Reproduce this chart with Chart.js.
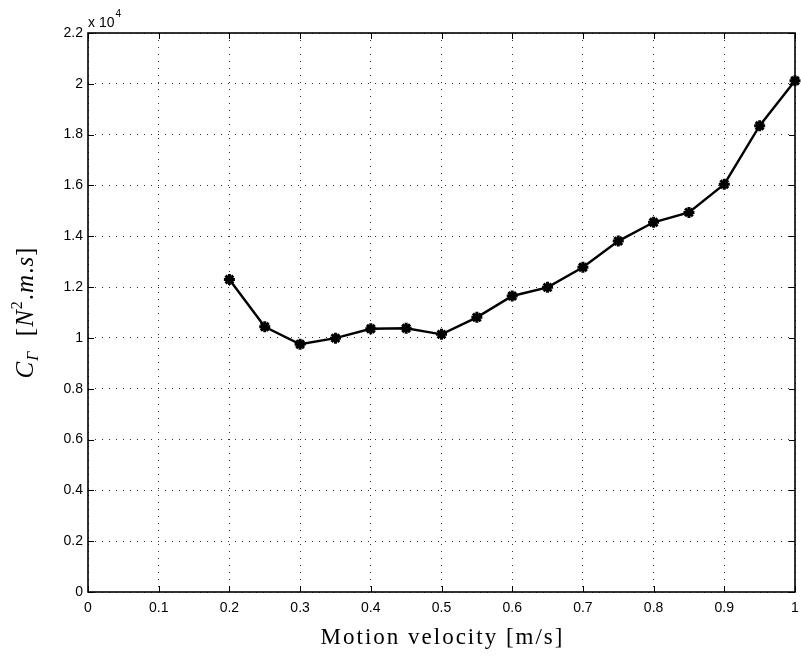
<!DOCTYPE html>
<html>
<head>
<meta charset="utf-8">
<script src="https://cdn.jsdelivr.net/npm/chart.js@4/dist/chart.umd.min.js"></script>
<style>
  html, body { margin: 0; padding: 0; background: #fff; }
  canvas { display: block; }
</style>
</head>
<body>
<canvas id="velChart" width="801" height="656"></canvas>
<script>
// data
const velocities = [0.2, 0.25, 0.3, 0.35, 0.4, 0.45, 0.5, 0.55, 0.6, 0.65, 0.7, 0.75, 0.8, 0.85, 0.9, 0.95, 1.0];
const cGamma = [12300, 10440, 9750, 9990, 10360, 10380, 10140, 10810, 11650, 11990, 12780, 13810, 14550, 14940, 16050, 18350, 20120];

const xTickLabels = ['0', '0.1', '0.2', '0.3', '0.4', '0.5', '0.6', '0.7', '0.8', '0.9', '1'];
const yTickLabels = ['0', '0.2', '0.4', '0.6', '0.8', '1', '1.2', '1.4', '1.6', '1.8', '2', '2.2'];

const tickFont = { family: "'Liberation Sans', Arial, sans-serif", size: 14 };
const serif = "'Liberation Serif', 'DejaVu Serif', serif";

// draws the box, inward ticks, exponent label and axis titles
const matlabAxes = {
    id: 'matlabAxes',
    afterDraw(chart) {
        const ctx = chart.ctx;
        const { left, right, top, bottom } = chart.chartArea;
        const xs = chart.scales.x, ys = chart.scales.y;
        ctx.save();
        ctx.strokeStyle = '#000';
        ctx.lineWidth = 1;
        const tl = 6;
        ctx.beginPath();
        xs.ticks.forEach(t => {
            const px = Math.round(xs.getPixelForValue(t.value)) + 0.5;
            ctx.moveTo(px, bottom); ctx.lineTo(px, bottom - tl);
            ctx.moveTo(px, top); ctx.lineTo(px, top + tl);
        });
        ys.ticks.forEach(t => {
            const py = Math.round(ys.getPixelForValue(t.value)) + 0.5;
            ctx.moveTo(left, py); ctx.lineTo(left + tl, py);
            ctx.moveTo(right, py); ctx.lineTo(right - tl, py);
        });
        ctx.stroke();

        ctx.lineWidth = 1.6;
        ctx.strokeRect(left, top, right - left, bottom - top);

        // x 10^4
        ctx.fillStyle = '#000';
        ctx.textBaseline = 'alphabetic';
        ctx.textAlign = 'left';
        ctx.font = "14px 'Liberation Sans', Arial, sans-serif";
        ctx.fillText('x 10', left, 27);
        const w = ctx.measureText('x 10').width;
        ctx.font = "10px 'Liberation Sans', Arial, sans-serif";
        ctx.fillText('4', left + w + 1, 17);

        // x title
        ctx.textAlign = 'center';
        ctx.font = '23px ' + serif;
        ctx.letterSpacing = '2px';
        ctx.fillText('Motion velocity [m/s]', (left + right) / 2 + 1, 644);

        // y title, rotated, built from pieces
        ctx.letterSpacing = '1px';
        const parts = [
            { t: 'C', f: 'italic 25px ' + serif, dy: 0 },
            { t: 'Γ', f: 'italic 16px ' + serif, dy: 5 },
            { t: '  [', f: '25px ' + serif, dy: 0 },
            { t: 'N', f: 'italic 25px ' + serif, dy: 0 },
            { t: '2', f: '16px ' + serif, dy: -11 },
            { t: '.', f: '25px ' + serif, dy: 0 },
            { t: 'm', f: 'italic 25px ' + serif, dy: 0 },
            { t: '.', f: '25px ' + serif, dy: 0 },
            { t: 's', f: 'italic 25px ' + serif, dy: 0 },
            { t: ']', f: '25px ' + serif, dy: 0 }
        ];
        let total = 0;
        parts.forEach(p => { ctx.font = p.f; p.w = ctx.measureText(p.t).width; total += p.w; });
        ctx.translate(33, (top + bottom) / 2);
        ctx.rotate(-Math.PI / 2);
        ctx.textAlign = 'left';
        let cx = -total / 2;
        parts.forEach(p => {
            ctx.font = p.f;
            ctx.fillText(p.t, cx, p.dy);
            cx += p.w;
        });
        ctx.restore();
    }
};

new Chart(document.getElementById('velChart'), {
    type: 'line',
    data: {
        datasets: [{
            data: velocities.map((v, i) => ({ x: v, y: cGamma[i] })),
            borderColor: '#000',
            backgroundColor: '#000',
            borderWidth: 2.4,
            pointStyle: 'star',
            pointRadius: 5.5,
            pointBorderWidth: 3,
            tension: 0,
            clip: false
        }]
    },
    options: {
        responsive: false,
        animation: false,
        layout: { autoPadding: false, padding: { top: 33, right: 6, left: 0, bottom: 0 } },
        plugins: { legend: { display: false }, tooltip: { enabled: false } },
        scales: {
            x: {
                type: 'linear',
                min: 0, max: 1,
                afterFit(scale) {
                    scale.height = 64;
                    scale.paddingLeft = 0;
                    scale.paddingRight = 0;
                },
                afterBuildTicks(scale) {
                    scale.ticks = xTickLabels.map((l, i) => ({ value: i / 10 }));
                },
                ticks: {
                    font: tickFont, color: '#000', padding: 8, maxRotation: 0,
                    callback: (v, i) => xTickLabels[i]
                },
                grid: {
                    color: '#333', lineWidth: 1, drawTicks: false,
                    tickLength: 0
                },
                border: { display: false, dash: [1, 6] }
            },
            y: {
                min: 0, max: 22000,
                afterFit(scale) {
                    scale.width = 88;
                    scale.paddingTop = 0;
                    scale.paddingBottom = 0;
                },
                afterBuildTicks(scale) {
                    scale.ticks = yTickLabels.map((l, i) => ({ value: i * 2000 }));
                },
                ticks: {
                    font: tickFont, color: '#000', padding: 5,
                    callback: (v, i) => yTickLabels[i]
                },
                grid: {
                    color: '#333', lineWidth: 1, drawTicks: false,
                    tickLength: 0
                },
                border: { display: false, dash: [1, 6] }
            }
        }
    },
    plugins: [matlabAxes]
});
</script>
</body>
</html>
